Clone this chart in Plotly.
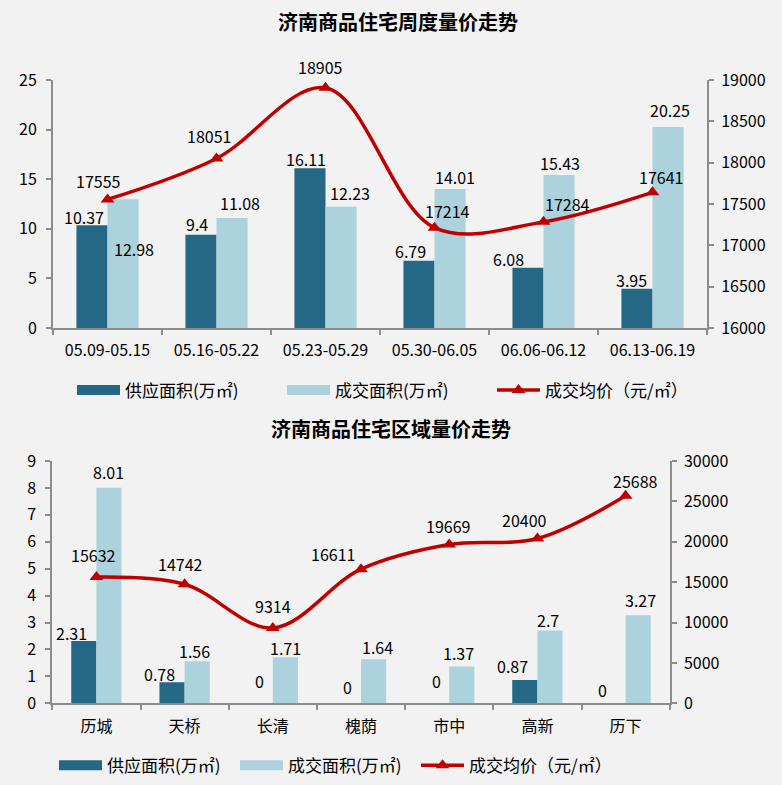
import plotly.graph_objects as go

FONT = "Noto Sans CJK SC"
DARK = "#246885"
LIGHT = "#ABD2DD"
RED = "#C00000"
AXIS = "#8C8C8C"
BG = "#F2F2F2"
TXT = "#000000"

# ---------------- data ----------------
weeks = ["05.09-05.15", "05.16-05.22", "05.23-05.29", "05.30-06.05", "06.06-06.12", "06.13-06.19"]
week_supply = [10.37, 9.4, 16.11, 6.79, 6.08, 3.95]
week_deal = [12.98, 11.08, 12.23, 14.01, 15.43, 20.25]
week_price = [17555, 18051, 18905, 17214, 17284, 17641]

districts = ["历城", "天桥", "长清", "槐荫", "市中", "高新", "历下"]
district_supply = [2.31, 0.78, 0, 0, 0, 0.87, 0]
district_deal = [8.01, 1.56, 1.71, 1.64, 1.37, 2.7, 3.27]
district_price = [15632, 14742, 9314, 16611, 19669, 20400, 25688]

top_left_ticks = [0, 5, 10, 15, 20, 25]
top_right_ticks = [16000, 16500, 17000, 17500, 18000, 18500, 19000]
bot_left_ticks = [0, 1, 2, 3, 4, 5, 6, 7, 8, 9]
bot_right_ticks = [0, 5000, 10000, 15000, 20000, 25000, 30000]

name_supply = "供应面积(万㎡)"
name_deal = "成交面积(万㎡)"
name_price = "成交均价（元/㎡）"
title_top = "济南商品住宅周度量价走势"
title_bot = "济南商品住宅区域量价走势"

# label offsets in px (dx from category centre, dy up from value)
off_top_supply = [(-24, 8), (-20, 11), (-20, 9), (-24, 10), (-35, 9), (-21, 9)]
off_top_deal = [(26, -50), (23, 15), (24, 14), (20, 12), (16, 12), (17, 17)]
off_top_price = [(-9, 18), (-8, 22), (-5, 21), (13, 17), (24, 18), (8, 15)]
off_bot_supply = [(-25, 8), (-25, 8), (-13, 22), (-14, 16), (-13, 22), (-25, 14), (-23, 13)]
off_bot_deal = [(12, 16), (10, 10), (13, 9), (16, 12), (9, 13), (11, 11), (15, 15)]
off_bot_price = [(-3, 22), (-4, 20), (0, 22), (-28, 15), (-1, 18), (-13, 19), (10, 15)]

W, H = 782, 785


def fmt(v):
    return f"{v:g}"


fig = go.Figure()


def legend_swatch(color, name, xa, ya, lg):
    return go.Scatter(x=[None], y=[None], mode="lines", line=dict(color=color, width=10),
                      name=name, xaxis=xa, yaxis=ya, legend=lg, hoverinfo="skip")


def legend_spacer(xa, ya, lg):
    return go.Scatter(x=[None], y=[None], mode="lines", line=dict(color=BG, width=0),
                      name=" ", xaxis=xa, yaxis=ya, legend=lg, hoverinfo="skip")


# ---- top chart ----
fig.add_trace(go.Bar(x=weeks, y=week_supply, marker=dict(color=DARK, line=dict(width=0)),
                     xaxis="x", yaxis="y", showlegend=False, name=name_supply))
fig.add_trace(go.Bar(x=weeks, y=week_deal, marker=dict(color=LIGHT, line=dict(width=0)),
                     xaxis="x", yaxis="y", showlegend=False, name=name_deal))
fig.add_trace(legend_swatch(DARK, name_supply, "x", "y", "legend"))
fig.add_trace(legend_swatch(LIGHT, name_deal, "x", "y", "legend"))
fig.add_trace(go.Scatter(x=weeks, y=week_price, mode="lines+markers", name=name_price,
                         line=dict(color=RED, width=3.5, shape="spline", smoothing=1),
                         marker=dict(symbol="triangle-up", size=12, color=RED),
                         xaxis="x", yaxis="y2", legend="legend"))

# ---- bottom chart ----
fig.add_trace(go.Bar(x=districts, y=district_supply, marker=dict(color=DARK, line=dict(width=0)),
                     xaxis="x2", yaxis="y3", showlegend=False, name=name_supply))
fig.add_trace(go.Bar(x=districts, y=district_deal, marker=dict(color=LIGHT, line=dict(width=0)),
                     xaxis="x2", yaxis="y3", showlegend=False, name=name_deal))
fig.add_trace(legend_swatch(DARK, name_supply, "x2", "y3", "legend2"))
fig.add_trace(legend_swatch(LIGHT, name_deal, "x2", "y3", "legend2"))
fig.add_trace(go.Scatter(x=districts, y=district_price, mode="lines+markers", name=name_price,
                         line=dict(color=RED, width=3.5, shape="spline", smoothing=1),
                         marker=dict(symbol="triangle-up", size=12, color=RED),
                         xaxis="x2", yaxis="y4", legend="legend2"))
fig.add_trace(legend_spacer("x2", "y3", "legend2"))

annotations = []


def add_labels(cats, vals, offs, xref, yref):
    for c, v, (dx, dy) in zip(cats, vals, offs):
        annotations.append(dict(x=c, y=v, xref=xref, yref=yref, text=fmt(v), showarrow=False,
                                xanchor="center", yanchor="middle", xshift=dx, yshift=dy,
                                font=dict(family=FONT, size=16, color=TXT)))


add_labels(weeks, week_supply, off_top_supply, "x", "y")
add_labels(weeks, week_deal, off_top_deal, "x", "y")
add_labels(weeks, week_price, off_top_price, "x", "y2")
add_labels(districts, district_supply, off_bot_supply, "x2", "y3")
add_labels(districts, district_deal, off_bot_deal, "x2", "y3")
add_labels(districts, district_price, off_bot_price, "x2", "y4")

annotations.append(dict(x=397.5 / W, y=1 - 21.5 / H, xref="paper", yref="paper", text=f"<b>{title_top}</b>",
                        showarrow=False, xanchor="center", yanchor="middle",
                        font=dict(family=FONT, size=20, color=TXT)))
annotations.append(dict(x=391 / W, y=1 - 428.5 / H, xref="paper", yref="paper", text=f"<b>{title_bot}</b>",
                        showarrow=False, xanchor="center", yanchor="middle",
                        font=dict(family=FONT, size=20, color=TXT)))

tickfont = dict(family=FONT, size=16, color=TXT)
common_axis = dict(showline=True, linecolor=AXIS, linewidth=2, ticks="outside", ticklen=5,
                   tickcolor=AXIS, tickwidth=2, showgrid=False, zeroline=False, tickfont=tickfont,
                   fixedrange=True, automargin=False)

legend_font = dict(family=FONT, size=17, color=TXT)

fig.update_layout(
    width=W, height=H, autosize=False,
    margin=dict(l=0, r=0, t=0, b=0, pad=0, autoexpand=False),
    paper_bgcolor=BG, plot_bgcolor=BG,
    font=dict(family=FONT, size=16, color=TXT),
    barmode="group", bargap=0.43, bargroupgap=0,
    annotations=annotations,
    xaxis=dict(domain=[53 / W, 707 / W], anchor="y", type="category", tickson="boundaries",
               ticklabelstandoff=7, **common_axis),
    yaxis=dict(domain=[1 - 328 / H, 1 - 80 / H], anchor="x", range=[0, 25], tickvals=top_left_ticks,
               ticklabelstandoff=6, **common_axis),
    yaxis2=dict(overlaying="y", side="right", anchor="x", range=[16000, 19000], tickvals=top_right_ticks,
                tickformat="d", ticklabelstandoff=4, **common_axis),
    xaxis2=dict(domain=[52.3 / W, 669.7 / W], anchor="y3", type="category", tickson="boundaries",
                ticklabelstandoff=7, **common_axis),
    yaxis3=dict(domain=[1 - 703.3 / H, 1 - 461 / H], anchor="x2", range=[0, 9], tickvals=bot_left_ticks,
                ticklabelstandoff=6, **common_axis),
    yaxis4=dict(overlaying="y3", side="right", anchor="x2", range=[0, 30000], tickvals=bot_right_ticks,
                tickformat="d", ticklabelstandoff=4, **common_axis),
    legend=dict(orientation="h", x=72 / W, xanchor="left", y=1 - 390.5 / H, yanchor="middle",
                bgcolor="rgba(0,0,0,0)", borderwidth=0, font=legend_font,
                itemwidth=43, entrywidth=152, traceorder="normal", itemclick=False, itemdoubleclick=False),
    legend2=dict(orientation="h", x=54 / W, xanchor="left", y=1 - 765.7 / H, yanchor="middle",
                 bgcolor="rgba(0,0,0,0)", borderwidth=0, font=legend_font,
                 itemwidth=43, entrywidth=123, traceorder="normal", itemclick=False, itemdoubleclick=False),
)

fig.write_html("out.html", config={"displayModeBar": False},
               post_script="document.body.style.margin='0px';document.body.style.overflow='hidden';")
